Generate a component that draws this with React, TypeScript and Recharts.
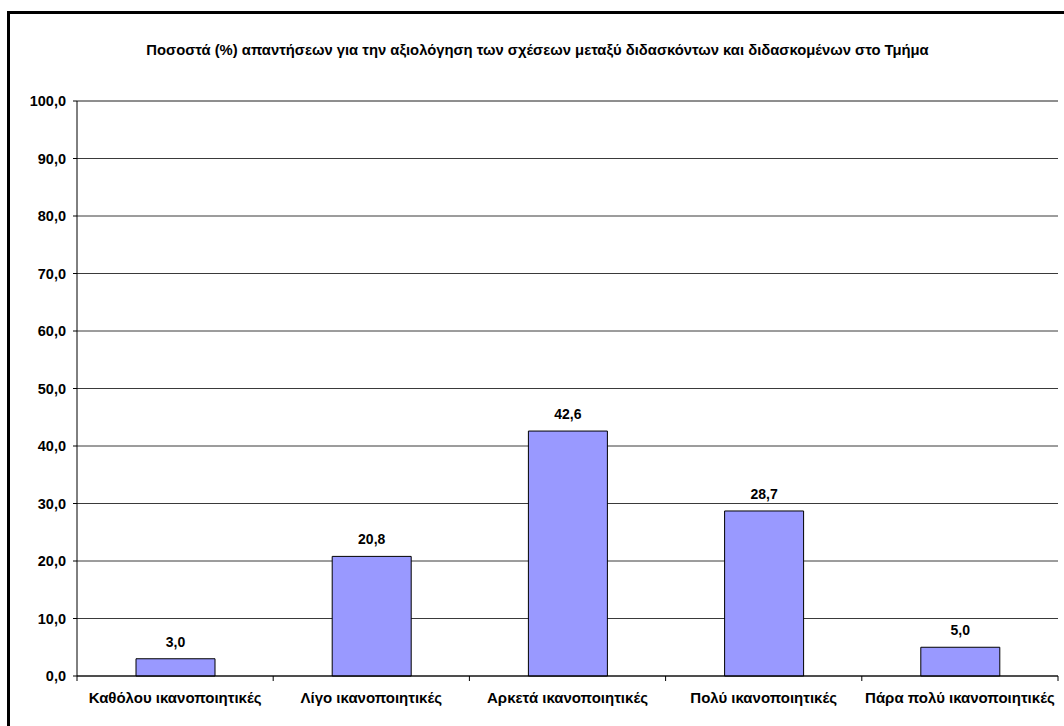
import { BarChart, Bar, XAxis, YAxis, CartesianGrid, LabelList, ReferenceLine } from "recharts";

const categories = [
  "Καθόλου ικανοποιητικές",
  "Λίγο ικανοποιητικές",
  "Αρκετά ικανοποιητικές",
  "Πολύ ικανοποιητικές",
  "Πάρα πολύ ικανοποιητικές",
];
const percentages = [3.0, 20.8, 42.6, 28.7, 5.0];
const yTicks = [0, 10, 20, 30, 40, 50, 60, 70, 80, 90, 100];

const chartTitle =
  "Ποσοστά (%) απαντήσεων για την αξιολόγηση των σχέσεων μεταξύ διδασκόντων και διδασκομένων στο Τμήμα";

const data = categories.map((name, i) => ({ name, value: percentages[i] }));

const font = "'Liberation Sans', Arial, sans-serif";
const fmt = (v: number) => Number(v).toFixed(1).replace(".", ",");

// etiqueta del eje X con marcas en los límites de cada categoría
const CategoryTick = (props: any) => {
  const { x, y, payload, index } = props;
  const half = payload.offset || 0;
  const last = index === categories.length - 1;
  return (
    <g>
      <line x1={x - half} x2={x - half} y1={y} y2={y + 5} stroke="#000" />
      {last && <line x1={x + half} x2={x + half} y1={y} y2={y + 5} stroke="#000" />}
      <text
        x={x}
        y={y + 27}
        textAnchor="middle"
        fontFamily={font}
        fontWeight="bold"
        fontSize={15}
        fill="#000"
      >
        {payload.value}
      </text>
    </g>
  );
};

export default function App() {
  return (
    <div
      style={{
        position: "absolute",
        left: 0,
        top: 0,
        width: 1064,
        height: 726,
        overflow: "hidden",
        background: "#fff",
      }}
    >
      <div
        style={{
          position: "absolute",
          left: 7,
          top: 11,
          width: 1200,
          height: 900,
          border: "3px solid #000",
        }}
      />
      <div
        style={{
          position: "absolute",
          left: 0,
          top: 42,
          width: 1075,
          textAlign: "center",
          fontFamily: font,
          fontWeight: "bold",
          fontSize: 14.8,
          color: "#000",
        }}
      >
        {chartTitle}
      </div>
      <div style={{ position: "absolute", left: 0, top: 0 }}>
        <BarChart
          width={1064}
          height={726}
          data={data}
          margin={{ top: 101, right: 6, bottom: 0, left: 0 }}
        >
          <CartesianGrid vertical={false} stroke="#3a3a3a" />
          <XAxis
            dataKey="name"
            height={50}
            stroke="#000"
            tickLine={false}
            tickSize={0}
            tickMargin={0}
            interval={0}
            tick={<CategoryTick />}
          />
          <YAxis
            width={77}
            domain={[0, 100]}
            ticks={yTicks}
            interval={0}
            stroke="#000"
            tickSize={4}
            tickMargin={7}
            tickFormatter={fmt}
            tick={{ fill: "#000", fontFamily: font, fontWeight: "bold", fontSize: 14.5 }}
          />
          <YAxis
            yAxisId="r"
            orientation="right"
            width={0}
            domain={[0, 100]}
            stroke="#808080"
            tick={false}
            tickLine={false}
          />
          <ReferenceLine y={100} stroke="#808080" />
          <Bar
            dataKey="value"
            fill="#9999FF"
            stroke="#000"
            strokeWidth={1}
            barSize={79}
            isAnimationActive={false}
          >
            <LabelList
              dataKey="value"
              position="top"
              offset={12}
              formatter={(v: any) => fmt(v)}
              fill="#000"
              fontFamily={font}
              fontWeight="bold"
              fontSize={14}
            />
          </Bar>
        </BarChart>
      </div>
    </div>
  );
}
